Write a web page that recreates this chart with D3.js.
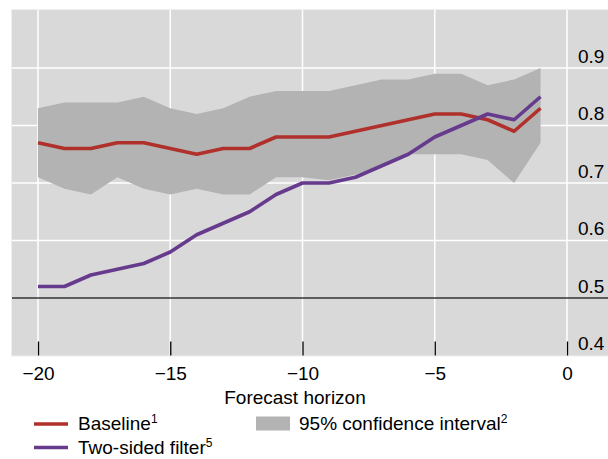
<!DOCTYPE html>
<html>
<head>
<meta charset="utf-8">
<script src="https://cdn.jsdelivr.net/npm/d3@7"></script>
<style>
  html, body { margin: 0; padding: 0; background: #ffffff; }
  svg { display: block; }
  text { font-family: "Liberation Sans", Arial, sans-serif; fill: #000; }
</style>
</head>
<body>
<svg id="chart" width="608" height="459"></svg>
<script>
// Forecast horizon (quarters before the event)
const horizon = [-20, -19, -18, -17, -16, -15, -14, -13, -12, -11, -10, -9, -8, -7, -6, -5, -4, -3, -2, -1];
// Baseline model
const baseline = [0.77, 0.76, 0.76, 0.77, 0.77, 0.76, 0.75, 0.76, 0.76, 0.78, 0.78, 0.78, 0.79, 0.80, 0.81, 0.82, 0.82, 0.81, 0.79, 0.83];
// Two-sided filter
const twoSided = [0.52, 0.52, 0.54, 0.55, 0.56, 0.58, 0.61, 0.63, 0.65, 0.68, 0.70, 0.70, 0.71, 0.73, 0.75, 0.78, 0.80, 0.82, 0.81, 0.85];
// 95% confidence interval around the baseline
const ciUpper = [0.83, 0.84, 0.84, 0.84, 0.85, 0.83, 0.82, 0.83, 0.85, 0.86, 0.86, 0.86, 0.87, 0.88, 0.88, 0.89, 0.89, 0.87, 0.88, 0.90];
const ciLower = [0.71, 0.69, 0.68, 0.71, 0.69, 0.68, 0.69, 0.68, 0.68, 0.71, 0.71, 0.705, 0.715, 0.73, 0.75, 0.75, 0.75, 0.74, 0.70, 0.77];

const xTicks = [-20, -15, -10, -5, 0];
const yTicks = [0.4, 0.5, 0.6, 0.7, 0.8, 0.9];
const yGrid = [0.6, 0.7, 0.8, 0.9];
const refLevel = 0.5;

const legendLines = [
  { label: "Baseline", note: "1", color: "#b0302c" },
  { label: "Two-sided filter", note: "5", color: "#663b8d" }
];
const legendBand = { label: "95% confidence interval", note: "2", color: "#b3b3b3" };

const svg = d3.select("#chart");
const panel = { left: 12, top: 10, right: 612, bottom: 355.5 };

const x = d3.scaleLinear().domain([-20, 0]).range([38, 567]);
const y = d3.scaleLinear().domain([0.4, 1.0]).range([355.5, 10.5]);

// plot panel
svg.append("rect")
  .attr("x", panel.left - 0.5).attr("y", panel.top - 0.5)
  .attr("width", panel.right - panel.left).attr("height", panel.bottom - panel.top + 1)
  .attr("fill", "#d9d9d9").attr("stroke", "#eeeeee").attr("stroke-width", 1);

// gridlines
svg.append("g").selectAll("line").data(xTicks).join("line")
  .attr("x1", d => x(d)).attr("x2", d => x(d))
  .attr("y1", panel.top).attr("y2", panel.bottom)
  .attr("stroke", "#ffffff").attr("stroke-width", 1.5);
svg.append("g").selectAll("line").data(yGrid).join("line")
  .attr("x1", panel.left).attr("x2", panel.right)
  .attr("y1", d => y(d)).attr("y2", d => y(d))
  .attr("stroke", "#ffffff").attr("stroke-width", 1.5);

// confidence band
const data = horizon.map((h, i) => ({ h, b: baseline[i], t: twoSided[i], lo: ciLower[i], hi: ciUpper[i] }));
svg.append("path").datum(data)
  .attr("fill", legendBand.color)
  .attr("d", d3.area().x(d => x(d.h)).y0(d => y(d.lo)).y1(d => y(d.hi)));

// reference line
svg.append("line")
  .attr("x1", panel.left).attr("x2", panel.right)
  .attr("y1", y(refLevel)).attr("y2", y(refLevel))
  .attr("stroke", "#333333").attr("stroke-width", 1.6);

// series lines
const line = key => d3.line().x(d => x(d.h)).y(d => y(d[key]));
svg.append("path").datum(data)
  .attr("fill", "none").attr("stroke", legendLines[0].color)
  .attr("stroke-width", 3.6).attr("stroke-linejoin", "round")
  .attr("d", line("b"));
svg.append("path").datum(data)
  .attr("fill", "none").attr("stroke", legendLines[1].color)
  .attr("stroke-width", 3.6).attr("stroke-linejoin", "round")
  .attr("d", line("t"));

// x axis: ticks pointing up into the panel, labels below
const xAxis = svg.append("g")
  .attr("transform", `translate(0,${panel.bottom})`)
  .call(d3.axisBottom(x).tickValues(xTicks).tickSizeInner(-14).tickSizeOuter(0).tickPadding(11));
xAxis.select(".domain").remove();
xAxis.selectAll(".tick line").attr("stroke", "#000").attr("stroke-width", 1.3);
xAxis.selectAll("text").attr("font-size", 19).attr("fill", "#000")
  .style("font-family", "'Liberation Sans', Arial, sans-serif");

// y axis on the right, labels sitting above their gridlines
const yAxis = svg.append("g")
  .attr("transform", `translate(567,0)`)
  .call(d3.axisRight(y).tickValues(yTicks).tickSize(0).tickPadding(11).tickFormat(d3.format(".1f")));
yAxis.select(".domain").remove();
yAxis.selectAll("text").attr("font-size", 19).attr("fill", "#000")
  .attr("dy", null).attr("y", -6)
  .style("font-family", "'Liberation Sans', Arial, sans-serif");

// axis title
svg.append("text")
  .attr("x", 295).attr("y", 404)
  .attr("text-anchor", "middle").attr("font-size", 19)
  .text("Forecast horizon");

// legend
function labelWithNote(sel, label, note) {
  sel.append("tspan").text(label);
  sel.append("tspan").attr("font-size", 12).attr("dy", -7).text(note);
}
legendLines.forEach((d, i) => {
  const yy = 424 + i * 23.5;
  svg.append("line")
    .attr("x1", 34).attr("x2", 68).attr("y1", yy).attr("y2", yy)
    .attr("stroke", d.color).attr("stroke-width", 3.6);
  const t = svg.append("text").attr("x", 78).attr("y", yy + 6).attr("font-size", 19);
  labelWithNote(t, d.label, d.note);
});
svg.append("rect")
  .attr("x", 256).attr("y", 416.5).attr("width", 34).attr("height", 14)
  .attr("fill", legendBand.color);
const bt = svg.append("text").attr("x", 299).attr("y", 430).attr("font-size", 19);
labelWithNote(bt, legendBand.label, legendBand.note);
</script>
</body>
</html>
